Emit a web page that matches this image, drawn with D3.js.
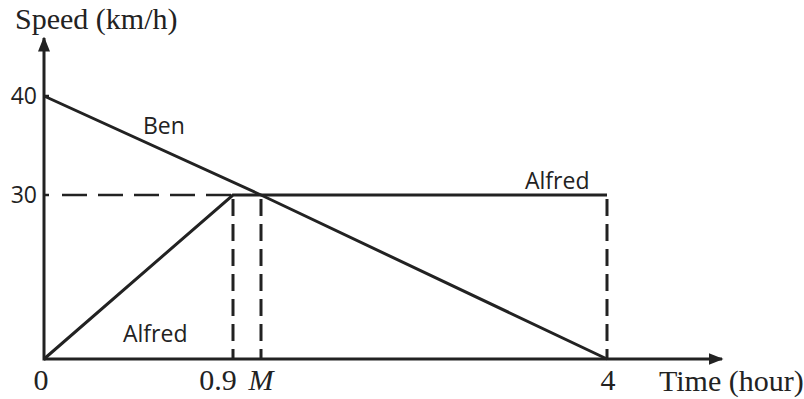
<!DOCTYPE html>
<html><head><meta charset="utf-8">
<script src="https://cdn.jsdelivr.net/npm/d3@7/dist/d3.min.js"></script>
<style>body{margin:0;background:#fff}svg{display:block}</style>
</head><body>
<script>
// schematic time axis: 0, 0.9, M (=1), 4
const timeKeys = [0, 0.9, 1, 4];
const timeTickLabels = ["0", "0.9", "M", "4"];
const speedKeys = [0, 30, 40];
const speedTickLabels = ["40", "30"];
const benTime = [0, 1, 4];
const benSpeed = [40, 30, 0];
const alfredTime = [0, 0.9, 4];
const alfredSpeed = [0, 30, 30];

const W = 804, H = 399;
const svg = d3.select("body").append("svg").attr("width", W).attr("height", H);
const ink = "#222";

const x = d3.scaleLinear().domain(timeKeys).range([44, 233, 261, 607]);
const y = d3.scaleLinear().domain(speedKeys).range([359, 195, 96]);

const serif = "'Liberation Serif','Times New Roman',serif";
const sans = "'Open Sans','Liberation Sans',sans-serif";

const defs = svg.append("defs");
defs.append("marker").attr("id","arr").attr("viewBox","0 0 10 10").attr("refX",9).attr("refY",5)
  .attr("markerWidth",5).attr("markerHeight",5).attr("markerUnits","strokeWidth").attr("orient","auto")
  .append("path").attr("d","M0,1 L10,5 L0,9 Z").attr("fill",ink);

// axes
svg.append("line").attr("x1", x(0)).attr("y1", y(0)).attr("x2", 722).attr("y2", y(0))
  .attr("stroke", ink).attr("stroke-width", 3).attr("marker-end","url(#arr)");
svg.append("line").attr("x1", x(0)).attr("y1", y(0)+1.5).attr("x2", x(0)).attr("y2", 38)
  .attr("stroke", ink).attr("stroke-width", 3).attr("marker-end","url(#arr)");

// y ticks
[40, 30].forEach((v, i) => {
  svg.append("line").attr("x1", x(0)).attr("x2", x(0)+5).attr("y1", y(v)).attr("y2", y(v))
    .attr("stroke", ink).attr("stroke-width", 2.5);
  svg.append("text").attr("x", x(0)-7).attr("y", y(v)).attr("dy","0.36em")
    .attr("text-anchor","end").attr("font-family", sans).attr("font-size", 23).attr("fill", ink)
    .text(speedTickLabels[i]);
});

// dashed guides
svg.append("line").attr("x1", x(0)+18).attr("x2", x(0.9)).attr("y1", y(30)).attr("y2", y(30))
  .attr("stroke", ink).attr("stroke-width", 2.5).attr("stroke-dasharray","25,11");
[0.9, 1, 4].forEach(t => {
  svg.append("line").attr("x1", x(t)).attr("x2", x(t)).attr("y1", y(30)+4).attr("y2", y(0))
    .attr("stroke", ink).attr("stroke-width", 3).attr("stroke-dasharray","17,8");
});

const line = d3.line().x(d => x(d[0])).y(d => y(d[1]));
svg.append("path").datum(benTime.map((t,i)=>[t, benSpeed[i]])).attr("d", line)
  .attr("fill","none").attr("stroke", ink).attr("stroke-width", 3);
svg.append("path").datum(alfredTime.map((t,i)=>[t, alfredSpeed[i]])).attr("d", line)
  .attr("fill","none").attr("stroke", ink).attr("stroke-width", 3);

// x tick labels
const xl = svg.append("g").attr("font-family", serif).attr("font-size", 30).attr("fill", ink);
xl.append("text").attr("x", x(0)-3).attr("y", 390).attr("text-anchor","middle").text(timeTickLabels[0]);
xl.append("text").attr("x", x(0.9)-15).attr("y", 390).attr("text-anchor","middle").text(timeTickLabels[1]);
xl.append("text").attr("x", x(1)).attr("y", 390).attr("text-anchor","middle").attr("font-style","italic").text(timeTickLabels[2]);
xl.append("text").attr("x", x(4)+1).attr("y", 390).attr("text-anchor","middle").text(timeTickLabels[3]);

// axis titles
svg.append("text").attr("x", 15).attr("y", 29).attr("font-family", serif).attr("font-size", 30)
  .attr("fill", ink).text("Speed (km/h)");
svg.append("text").attr("x", 659).attr("y", 391).attr("font-family", serif).attr("font-size", 30)
  .attr("fill", ink).text("Time (hour)");

// series labels
const lab = svg.append("g").attr("font-family", sans).attr("font-size", 23).attr("fill", ink);
lab.append("text").attr("x", 143).attr("y", 134).text("Ben");
lab.append("text").attr("x", 123).attr("y", 342).text("Alfred");
lab.append("text").attr("x", 525).attr("y", 189).text("Alfred");
</script>
</body></html>
